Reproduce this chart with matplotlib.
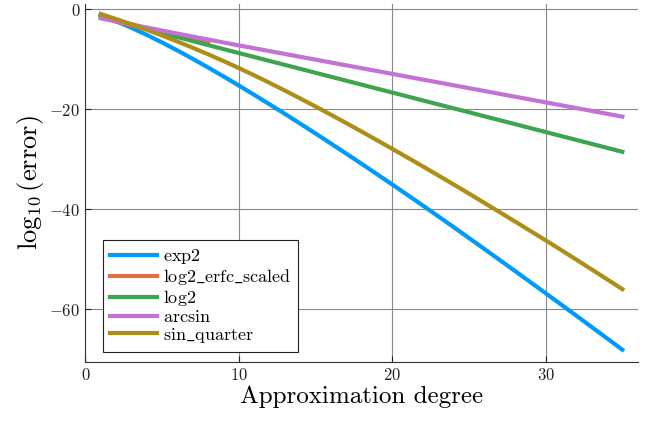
import matplotlib
matplotlib.use("Agg")
import matplotlib.pyplot as plt

plt.rcParams['font.family'] = 'serif'
plt.rcParams['font.serif'] = ['cmr10']
plt.rcParams['mathtext.fontset'] = 'cm'
plt.rcParams['axes.formatter.use_mathtext'] = True

degree = list(range(1, 36))

exp2 = [-1.30, -2.45, -3.75, -5.17, -6.69, -8.29, -9.96, -11.69, -13.47, -15.29,
        -17.15, -19.04, -20.96, -22.91, -24.89, -26.89, -28.91, -30.95, -33.01, -35.09,
        -37.19, -39.31, -41.45, -43.61, -45.79, -47.98, -50.18, -52.39, -54.61, -56.84,
        -59.08, -61.33, -63.59, -65.86, -68.14]

erfc_degree = [1, 2, 3, 4, 5, 6, 7, 8]
log2_erfc_scaled = [-1.4, -2.5, -3.3, -4.0, -4.7, -5.4, -6.1, -6.8]

log2 = [-1.30, -2.20, -3.08, -3.94, -4.78, -5.60, -6.41, -7.21, -8.01, -8.80,
        -9.59, -10.38, -11.17, -11.96, -12.75, -13.54, -14.33, -15.12, -15.91, -16.70,
        -17.49, -18.28, -19.07, -19.86, -20.65, -21.44, -22.23, -23.02, -23.81, -24.60,
        -25.39, -26.18, -26.97, -27.76, -28.55]

arcsin = [-1.85, -2.47, -3.09, -3.70, -4.31, -4.91, -5.51, -6.10, -6.69, -7.27,
          -7.84, -8.41, -8.98, -9.55, -10.12, -10.69, -11.26, -11.83, -12.40, -12.97,
          -13.54, -14.11, -14.68, -15.25, -15.82, -16.39, -16.96, -17.53, -18.10, -18.67,
          -19.24, -19.81, -20.38, -20.95, -21.52]

sin_quarter = [-1.00, -2.00, -3.05, -4.15, -5.30, -6.50, -7.75, -9.05, -10.40, -11.80,
               -13.25, -14.75, -16.30, -17.88, -19.49, -21.13, -22.80, -24.50, -26.22, -27.96,
               -29.71, -31.48, -33.27, -35.08, -36.91, -38.76, -40.62, -42.49, -44.37, -46.26,
               -48.18, -50.12, -52.08, -54.05, -56.03]

fig = plt.figure(figsize=(6.51, 4.23), dpi=100)
ax = fig.add_axes([0.1306, 0.1442, 0.8494, 0.8463])

lw = 3
ax.plot(degree, exp2, color='#009AFA', lw=lw, label=r'$\mathrm{exp2}$')
ax.plot(erfc_degree, log2_erfc_scaled, color='#E36F47', lw=lw,
        label=r'$\mathrm{log2\_erfc\_scaled}$')
ax.plot(degree, log2, color='#3EA44E', lw=lw, label=r'$\mathrm{log2}$')
ax.plot(degree, arcsin, color='#C371D2', lw=lw, label=r'$\mathrm{arcsin}$')
ax.plot(degree, sin_quarter, color='#AC8E18', lw=lw,
        label=r'$\mathrm{sin\_quarter}$')

ax.set_xlim(-0.02, 36.02)
ax.set_ylim(-70.6, 1.0)
ax.set_xticks([0, 10, 20, 30])
ax.set_yticks([0, -20, -40, -60])
ax.grid(True, color='#888888', lw=0.8)
ax.set_axisbelow(True)
ax.spines['top'].set_visible(False)
ax.spines['right'].set_visible(False)
ax.spines['left'].set_color('#333333')
ax.spines['bottom'].set_color('#333333')
ax.tick_params(direction='in', length=4, labelsize=12, colors='#222222')

ax.set_xlabel('Approximation degree', fontsize=18, labelpad=2)
ax.set_ylabel(r'$\log_{10}(\mathrm{error})$', fontsize=19, labelpad=2)

leg = ax.legend(loc='lower left', bbox_to_anchor=(0.0325, 0.028),
                borderaxespad=0, fontsize=13, fancybox=False,
                handlelength=2.6, handletextpad=0.3, labelspacing=0.05,
                borderpad=0.4, framealpha=1)
leg.get_frame().set_edgecolor('#222222')
leg.get_frame().set_linewidth(0.8)

fig.savefig('out.png', dpi=100)
